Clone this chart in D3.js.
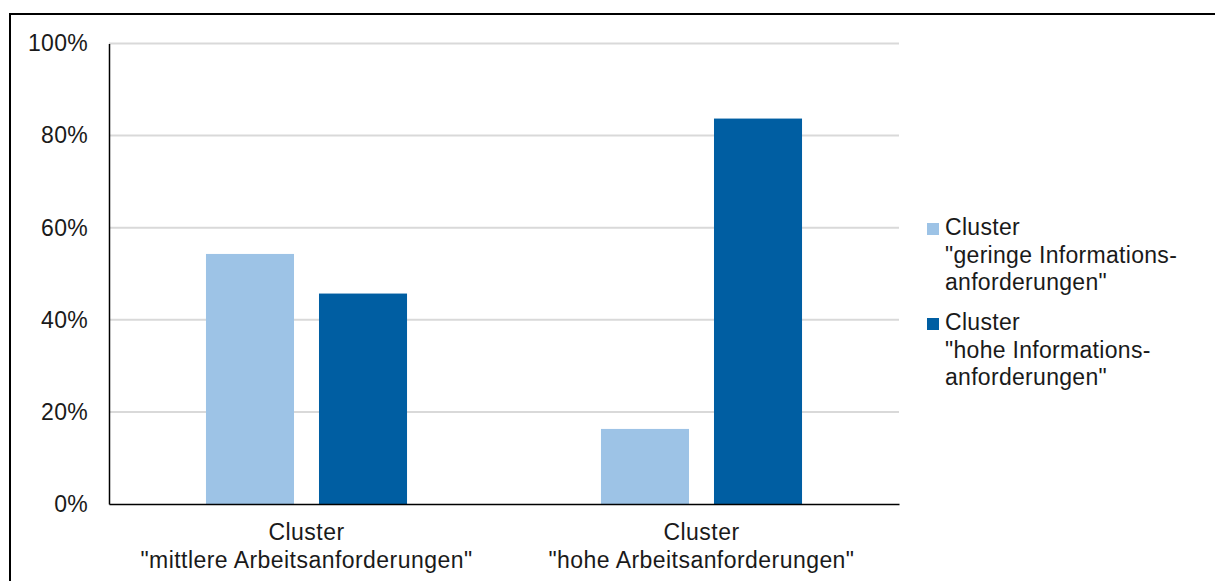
<!DOCTYPE html>
<html>
<head>
<meta charset="utf-8">
<script src="https://cdn.jsdelivr.net/npm/d3@7"></script>
<style>
  html, body { margin: 0; padding: 0; background: #fff; }
  svg { display: block; }
  text { font-family: "Liberation Sans", Arial, sans-serif; fill: #1a1a1a; }
</style>
</head>
<body>
<svg id="chart" width="1215" height="581"></svg>
<script>
// Categories (x axis), each label split into its printed lines
const categories = ["mittlere", "hohe"];
const categoryLines = [
  ["Cluster", "\"mittlere Arbeitsanforderungen\""],
  ["Cluster", "\"hohe Arbeitsanforderungen\""]
];

// Series: share of each information-requirement cluster per work-requirement cluster (%)
const seriesKeys = ["gering", "hoch"];
const seriesGering = [54.3, 16.3];
const seriesHoch = [45.7, 83.7];
const seriesColors = ["#9dc3e6", "#005ea2"];
const legendLines = [
  ["Cluster", "\"geringe Informations-", "anforderungen\""],
  ["Cluster", "\"hohe Informations-", "anforderungen\""]
];

// Y axis ticks
const yTicks = [0, 20, 40, 60, 80, 100];

const seriesValues = [seriesGering, seriesHoch];

const svg = d3.select("#chart");

// Outer frame (open on the right and bottom edges of the view)
svg.append("rect")
  .attr("x", 10).attr("y", 14)
  .attr("width", 1240).attr("height", 620)
  .attr("fill", "none").attr("stroke", "#000").attr("stroke-width", 2);

const plot = { left: 109, right: 899, top: 43.5, bottom: 504 };

const y = d3.scaleLinear().domain([0, 100]).range([plot.bottom, plot.top]);

const x0 = d3.scaleBand()
  .domain(categories)
  .range([plot.left, plot.right])
  .paddingInner(0.491)
  .paddingOuter(0.2455);

const x1 = d3.scaleBand()
  .domain(seriesKeys)
  .range([0, x0.bandwidth()])
  .paddingInner(0.221);

// Gridlines
svg.append("g")
  .selectAll("line")
  .data(yTicks.filter(d => d > 0))
  .join("line")
  .attr("x1", plot.left).attr("x2", plot.right)
  .attr("y1", d => y(d)).attr("y2", d => y(d))
  .attr("stroke", "#d9d9d9").attr("stroke-width", 2);

// Bars
const groups = svg.append("g")
  .selectAll("g")
  .data(categories)
  .join("g")
  .attr("transform", d => `translate(${x0(d)},0)`);

groups.selectAll("rect")
  .data((c, i) => seriesKeys.map((k, j) => ({ key: k, value: seriesValues[j][i], color: seriesColors[j] })))
  .join("rect")
  .attr("x", d => x1(d.key))
  .attr("width", x1.bandwidth())
  .attr("y", d => y(d.value))
  .attr("height", d => y(0) - y(d.value))
  .attr("fill", d => d.color);

// Y axis
const yAxis = d3.axisLeft(y)
  .tickValues(yTicks)
  .tickSize(0)
  .tickPadding(21)
  .tickFormat(d => d + "%");

const yg = svg.append("g")
  .attr("transform", `translate(${plot.left},0)`)
  .call(yAxis);
yg.select(".domain").attr("stroke", "#000").attr("stroke-width", 1.5);
yg.selectAll("text")
  .attr("font-size", 23)
  .attr("letter-spacing", "0.3px")
  .attr("fill", "#1a1a1a")
  .style("font-family", "'Liberation Sans', Arial, sans-serif");

// X axis baseline
const xAxis = d3.axisBottom(x0).tickSize(0).tickFormat("");
const xg = svg.append("g")
  .attr("transform", `translate(0,${plot.bottom})`)
  .call(xAxis);
xg.select(".domain").attr("stroke", "#000").attr("stroke-width", 1.5);

// Category labels
const catLabels = svg.append("g")
  .selectAll("text")
  .data(categories)
  .join("text")
  .attr("text-anchor", "middle")
  .attr("font-size", 23)
  .attr("letter-spacing", "0.45px")
  .attr("x", d => x0(d) + x0.bandwidth() / 2)
  .attr("y", 540);

catLabels.selectAll("tspan")
  .data((d, i) => categoryLines[i])
  .join("tspan")
  .attr("x", function () { return d3.select(this.parentNode).attr("x"); })
  .attr("dy", (d, i) => i === 0 ? 0 : 27.5)
  .text(d => d);

// Legend
const legend = svg.append("g").attr("transform", "translate(927,0)");
const legendTop = [235, 330];

seriesKeys.forEach((k, j) => {
  const g = legend.append("g");
  g.append("rect")
    .attr("x", 0).attr("y", legendTop[j] - 12)
    .attr("width", 12).attr("height", 12)
    .attr("fill", seriesColors[j]);
  const t = g.append("text")
    .attr("font-size", 23)
    .attr("letter-spacing", "0.3px")
    .attr("x", 18).attr("y", legendTop[j]);
  t.selectAll("tspan")
    .data(legendLines[j])
    .join("tspan")
    .attr("x", 18)
    .attr("dy", (d, i) => i === 0 ? 0 : 27.5)
    .text(d => d);
});
</script>
</body>
</html>
